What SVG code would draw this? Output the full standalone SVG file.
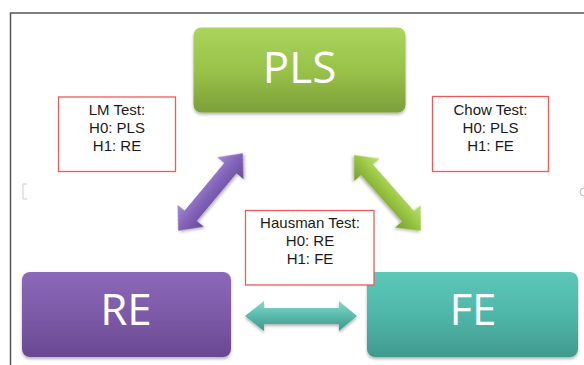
<svg xmlns="http://www.w3.org/2000/svg" width="584" height="365" viewBox="0 0 584 365">
<defs>
<linearGradient id="gPLS" x1="0" y1="0" x2="0" y2="1"><stop offset="0" stop-color="#aad45c"/><stop offset="0.5" stop-color="#98c349"/><stop offset="1" stop-color="#7c9f3a"/></linearGradient>
<linearGradient id="gRE" x1="0" y1="0" x2="0" y2="1"><stop offset="0" stop-color="#8c69b8"/><stop offset="0.5" stop-color="#7d5aa8"/><stop offset="1" stop-color="#684990"/></linearGradient>
<linearGradient id="gFE" x1="0" y1="0" x2="0" y2="1"><stop offset="0" stop-color="#5cc8ba"/><stop offset="0.5" stop-color="#4fb7a9"/><stop offset="1" stop-color="#3f9a8d"/></linearGradient>
<linearGradient id="aP" x1="0" y1="0" x2="0" y2="1"><stop offset="0" stop-color="#a68bd4"/><stop offset="0.45" stop-color="#8566bb"/><stop offset="1" stop-color="#66489a"/></linearGradient>
<linearGradient id="aG" x1="0" y1="0" x2="0" y2="1"><stop offset="0" stop-color="#bfe27a"/><stop offset="0.45" stop-color="#9bc843"/><stop offset="1" stop-color="#779e2e"/></linearGradient>
<linearGradient id="aT" x1="0" y1="0" x2="0" y2="1"><stop offset="0" stop-color="#8ad8cc"/><stop offset="0.45" stop-color="#5cbdaf"/><stop offset="1" stop-color="#3e978a"/></linearGradient>
<filter id="sh" x="-10%" y="-10%" width="120%" height="130%"><feDropShadow dx="0" dy="2" stdDeviation="1.5" flood-color="#000" flood-opacity="0.3"/></filter>
</defs>
<style>
.big{font-family:"Open Sans","Liberation Sans",sans-serif;font-size:44px;fill:#fff;text-anchor:middle}
.sm{font-family:"Liberation Sans",Arial,sans-serif;font-size:15px;fill:#1a1a1a;text-anchor:middle}
.tb{fill:#fff;stroke:#ee5a5a;stroke-width:1.3}
</style>
<path d="M10.5,365 V13 H584" fill="none" stroke="#555" stroke-width="1.5"/>
<path d="M27,184 H23 V199 H27" fill="none" stroke="#ccc" stroke-width="1"/>
<path d="M584,188 A4,4 0 1 0 584,196" fill="none" stroke="#bbb" stroke-width="1"/>
<g id="PLS"><rect x="193.5" y="27.5" width="212" height="85" rx="8" fill="url(#gPLS)" filter="url(#sh)"/><text class="big" x="299.5" y="83">PLS</text></g>
<g id="RE"><rect x="22" y="272" width="209" height="85" rx="8" fill="url(#gRE)" filter="url(#sh)"/><text class="big" x="126" y="325">RE</text></g>
<g id="FE"><rect x="367" y="272" width="211" height="85" rx="8" fill="url(#gFE)" filter="url(#sh)"/><text class="big" x="473" y="325">FE</text></g>
<g id="connectors">
<path transform="translate(210.5,192) rotate(-50.2)" d="M-50.5,0 L-31,-17 L-31,-8 L31,-8 L31,-17 L50.5,0 L31,17 L31,8 L-31,8 L-31,17 Z" fill="url(#aP)" filter="url(#sh)"/>
<path transform="translate(387.5,193) rotate(48.6)" d="M-50.5,0 L-31,-17 L-31,-8 L31,-8 L31,-17 L50.5,0 L31,17 L31,8 L-31,8 L-31,17 Z" fill="url(#aG)" filter="url(#sh)"/>
<path transform="translate(301,316)" d="M-56,0 L-37,-15 L-37,-8 L38,-8 L38,-15 L56,0 L38,15 L38,8 L-37,8 L-37,15 Z" fill="url(#aT)" filter="url(#sh)"/>
</g>
<g id="LM"><rect class="tb" x="58.5" y="97" width="117" height="74.5"/><text class="sm" x="117" y="115">LM Test:</text><text class="sm" x="117" y="133">H0: PLS</text><text class="sm" x="117" y="151">H1: RE</text></g>
<g id="Chow"><rect class="tb" x="432.5" y="96.5" width="116" height="75"/><text class="sm" x="490.5" y="115">Chow Test:</text><text class="sm" x="490.5" y="133">H0: PLS</text><text class="sm" x="490.5" y="151">H1: FE</text></g>
<g id="Hausman"><rect class="tb" x="245.5" y="210.5" width="128.5" height="74.5"/><text class="sm" x="310" y="228">Hausman Test:</text><text class="sm" x="310" y="246">H0: RE</text><text class="sm" x="310" y="264">H1: FE</text></g>
</svg>
